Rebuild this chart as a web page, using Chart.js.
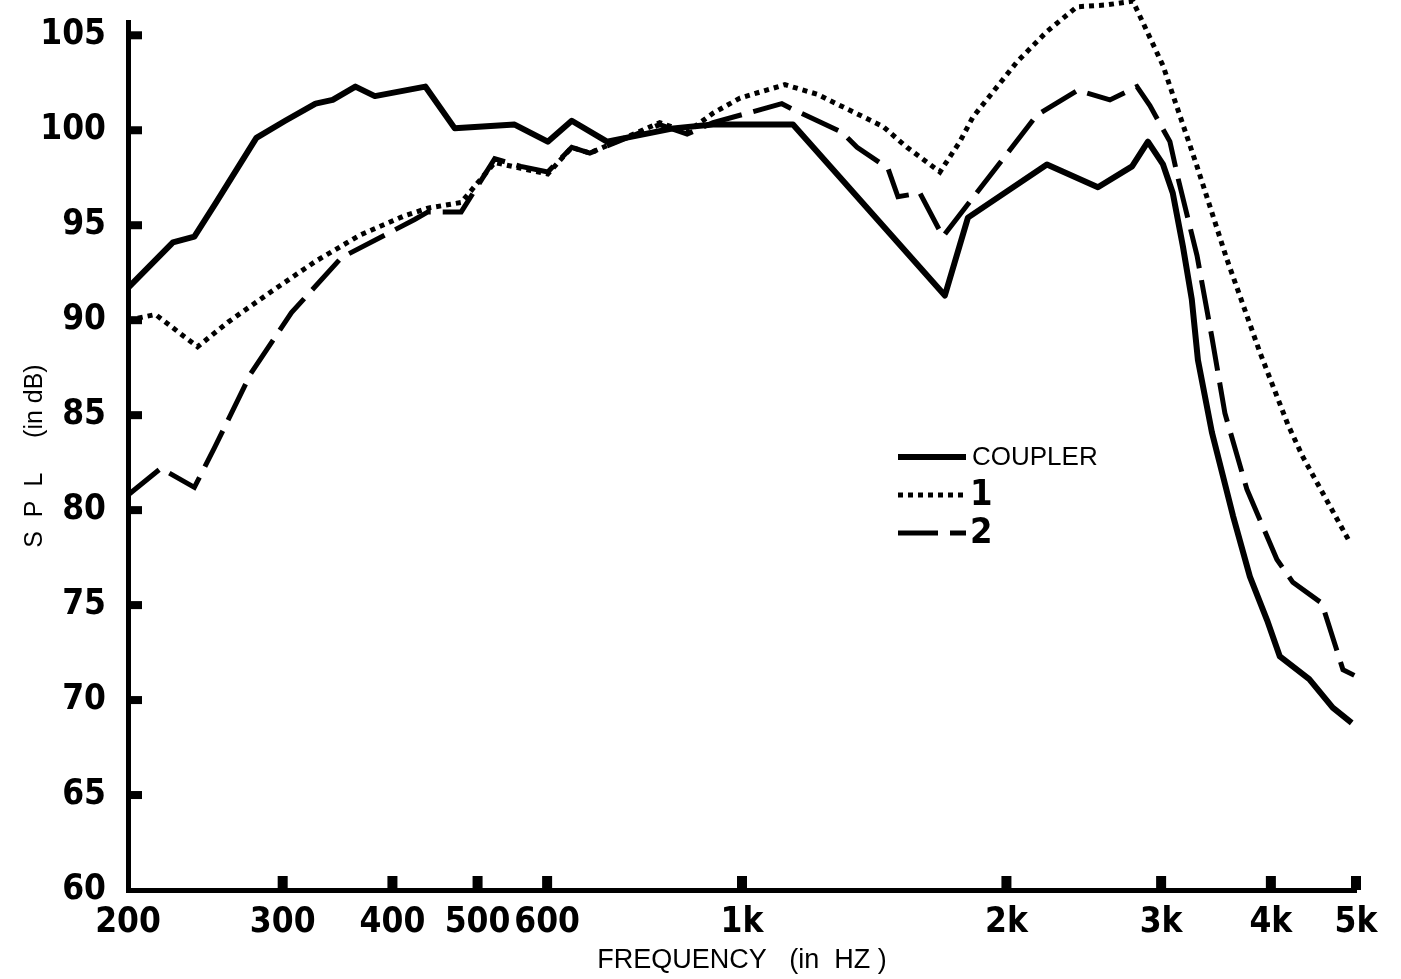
<!DOCTYPE html>
<html>
<head>
<meta charset="utf-8">
<script src="https://cdn.jsdelivr.net/npm/chart.js@4"></script>
<style>
html, body { margin: 0; padding: 0; background: #fff; }
#wrap { width: 1401px; height: 979px; }
</style>
</head>
<body>
<div id="wrap"><canvas id="splChart"></canvas></div>
<script>
// axis ticks
const xTicks = [200, 300, 400, 500, 600, 1000, 2000, 3000, 4000, 5000];
const yTicks = [60, 65, 70, 75, 80, 85, 90, 95, 100, 105];

// COUPLER (solid)
const couplerFreq = [200, 225, 238, 252, 280, 302, 327, 342, 363, 382, 436, 471, 551, 601, 640, 702, 835, 927, 1143, 1702, 1808, 2224, 2542, 2780, 2898, 3015, 3093, 3176, 3251, 3304, 3427, 3622, 3786, 3961, 4095, 4423, 4704, 4944];
const couplerSpl = [91.7, 94.1, 94.4, 96.2, 99.6, 100.5, 101.4, 101.6, 102.3, 101.8, 102.3, 100.1, 100.3, 99.4, 100.5, 99.4, 100.1, 100.3, 100.3, 91.3, 95.4, 98.2, 97.0, 98.1, 99.4, 98.2, 96.7, 93.9, 91.1, 87.9, 84.1, 79.7, 76.5, 74.2, 72.3, 71.1, 69.6, 68.8];

// 1 (dotted)
const oneFreq = [200, 215, 240, 260, 291, 327, 368, 413, 439, 479, 523, 560, 601, 640, 671, 806, 866, 927, 995, 1119, 1217, 1447, 1541, 1680, 1770, 1832, 2056, 2224, 2406, 2602, 2786, 3015, 3296, 3565, 3887, 4183, 4350, 4921];
const oneSpl = [90.0, 90.3, 88.6, 89.9, 91.5, 93.1, 94.5, 95.5, 95.9, 96.2, 98.3, 98.0, 97.7, 99.1, 98.8, 100.4, 99.9, 100.9, 101.7, 102.4, 101.9, 100.2, 99.1, 97.8, 99.4, 100.7, 103.6, 105.2, 106.5, 106.6, 106.8, 103.4, 98.1, 93.2, 88.3, 84.5, 82.8, 78.3];

// 2 (dashed)
const twoFreq = [200, 218, 238, 251, 276, 307, 350, 424, 439, 479, 523, 560, 601, 640, 671, 806, 866, 927, 1110, 1143, 1299, 1352, 1466, 1505, 1594, 1693, 2166, 2410, 2623, 2816, 2913, 3070, 3135, 3296, 3427, 3546, 3756, 4064, 4237, 4572, 4832, 4978];
const twoSpl = [80.8, 82.2, 81.2, 83.3, 87.2, 90.4, 93.3, 95.3, 95.7, 95.7, 98.5, 98.1, 97.8, 99.1, 98.8, 100.3, 99.8, 100.4, 101.4, 101.1, 99.9, 99.1, 98.0, 96.5, 96.7, 94.4, 100.8, 102.1, 101.6, 102.3, 101.3, 99.4, 97.5, 93.4, 89.1, 85.1, 81.1, 77.4, 76.2, 75.1, 71.6, 71.3];

const labels = ["COUPLER", "1", "2"];

const narrow = "'Liberation Sans Narrow', 'DejaVu Sans Condensed', 'Roboto Condensed', sans-serif";
const plain = "'Liberation Sans', Arial, sans-serif";

function toPoints(fs, vs) {
    return fs.map((f, i) => ({ x: f, y: vs[i] }));
}

// small inward tick blocks, like the printed figure
const inwardTicks = {
    id: "inwardTicks",
    afterDraw(chart) {
        const { ctx, chartArea, scales } = chart;
        ctx.save();
        ctx.fillStyle = "#000";
        xTicks.slice(1).forEach(v => {
            const px = scales.x.getPixelForValue(v);
            ctx.fillRect(px - 5, chartArea.bottom - 14, 10, 14);
        });
        yTicks.slice(1).forEach(v => {
            const py = scales.y.getPixelForValue(v);
            ctx.fillRect(chartArea.left, py - 4, 14, 8);
        });
        ctx.restore();
    }
};

// legend drawn inside the plot
const innerLegend = {
    id: "innerLegend",
    afterDraw(chart) {
        const { ctx } = chart;
        ctx.save();
        chart.data.datasets.forEach((ds, i) => {
            const y = 457 + i * 38;
            ctx.beginPath();
            ctx.strokeStyle = "#000";
            ctx.lineWidth = ds.borderWidth;
            ctx.lineCap = "butt";
            ctx.setLineDash(ds.borderDash || []);
            ctx.moveTo(898, y);
            ctx.lineTo(966, y);
            ctx.stroke();
            ctx.setLineDash([]);
            ctx.fillStyle = "#000";
            ctx.textBaseline = "middle";
            ctx.textAlign = "left";
            if (i === 0) {
                ctx.font = "26px " + plain;
                ctx.fillText(ds.label, 972, y + 1);
            } else {
                ctx.font = "bold 36px " + narrow;
                ctx.fillText(ds.label, 970, y + 1);
            }
        });
        ctx.restore();
    }
};

new Chart(document.getElementById("splChart"), {
    type: "line",
    data: {
        datasets: [
            {
                label: labels[0],
                data: toPoints(couplerFreq, couplerSpl),
                borderColor: "#000",
                borderWidth: 6,
                borderJoinStyle: "round",
                pointRadius: 0,
                tension: 0,
                clip: false
            },
            {
                label: labels[1],
                data: toPoints(oneFreq, oneSpl),
                borderColor: "#000",
                borderWidth: 5,
                borderDash: [5, 5],
                pointRadius: 0,
                tension: 0,
                clip: false
            },
            {
                label: labels[2],
                data: toPoints(twoFreq, twoSpl),
                borderColor: "#000",
                borderWidth: 5,
                borderDash: [40, 12],
                pointRadius: 0,
                tension: 0,
                clip: false
            }
        ]
    },
    options: {
        responsive: true,
        maintainAspectRatio: false,
        animation: false,
        devicePixelRatio: 1,
        layout: { padding: { top: 22, right: 45, left: 0, bottom: 0 } },
        plugins: {
            legend: { display: false },
            tooltip: { enabled: false }
        },
        scales: {
            x: {
                type: "logarithmic",
                min: 200,
                max: 5000,
                afterBuildTicks: s => { s.ticks = xTicks.map(v => ({ value: v })); },
                afterFit: s => { s.height = 89; },
                grid: { display: false },
                border: { display: true, color: "#000", width: 5 },
                ticks: {
                    autoSkip: false,
                    maxRotation: 0,
                    padding: 4,
                    color: "#000",
                    font: { family: narrow, weight: "bold", size: 35 },
                    callback: v => v >= 1000 ? (v / 1000) + "k" : String(v)
                },
                title: {
                    display: true,
                    text: "FREQUENCY   (in  HZ )",
                    color: "#000",
                    font: { family: plain, size: 27 },
                    padding: { top: 0, bottom: 2 }
                }
            },
            y: {
                type: "linear",
                min: 60,
                max: 105.7,
                afterBuildTicks: s => { s.ticks = yTicks.map(v => ({ value: v })); },
                afterFit: s => { s.width = 128; s.paddingTop = 0; s.paddingBottom = 0; },
                grid: { display: false },
                border: { display: true, color: "#000", width: 5 },
                ticks: {
                    padding: 14,
                    color: "#000",
                    font: { family: narrow, weight: "bold", size: 35, lineHeight: 0.4 }
                },
                title: {
                    display: true,
                    text: "S  P  L     (in dB)",
                    color: "#000",
                    font: { family: plain, size: 25 },
                    padding: { top: 20, bottom: 0 }
                }
            }
        }
    },
    plugins: [inwardTicks, innerLegend]
});
</script>
</body>
</html>
